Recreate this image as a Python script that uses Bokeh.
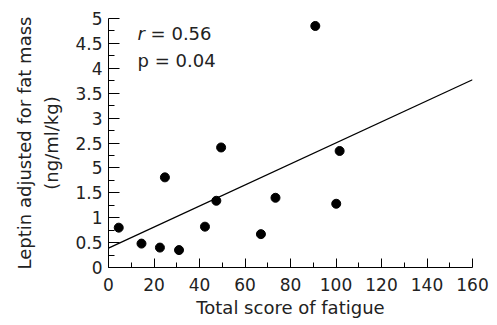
from bokeh.plotting import figure
from bokeh.models import Range1d, FixedTicker, Label
from bokeh.embed import file_html
from bokeh.resources import INLINE

# Data
fatigue = [4.5, 14.5, 22.6, 31.0, 24.8, 42.4, 47.4, 49.5, 67.0, 73.4, 90.9, 100.1, 101.6]
leptin = [0.80, 0.48, 0.40, 0.35, 1.81, 0.82, 1.34, 2.41, 0.67, 1.40, 4.85, 1.28, 2.34]
fit_x = [0, 160]
fit_y = [0.39, 3.77]
x_ticks = [0, 20, 40, 60, 80, 100, 120, 140, 160]
x_minor = [10, 30, 50, 70, 90, 110, 130, 150]
y_ticks = [0, 0.5, 1, 1.5, 2, 2.5, 3, 3.5, 4, 4.5, 5]
y_tick_labels = ["0", "0.5", "1", "1.5", "5", "2.5", "3", "3.5", "4", "4.5", "5"]
y_minor = [0.25, 0.75, 1.25, 1.75, 2.25, 2.75, 3.25, 3.75, 4.25, 4.75]
r_text = "= 0.56"
p_text = "p = 0.04"

FONT = "DejaVu Sans"

p = figure(width=497, height=325, output_backend="svg", toolbar_location=None,
           x_range=Range1d(0, 160), y_range=Range1d(0, 5),
           min_border_left=108, min_border_right=25, min_border_top=18, min_border_bottom=58)
p.outline_line_color = None
p.grid.visible = False
p.background_fill_color = "white"
p.border_fill_color = "white"

p.line(fit_x, fit_y, line_color="black", line_width=1.3)
p.scatter(fatigue, leptin, size=9, fill_color="black", line_color="black")

xa = p.xaxis[0]
xa.ticker = FixedTicker(ticks=x_ticks, minor_ticks=x_minor)
xa.major_tick_in = 9
xa.major_tick_out = 0
xa.minor_tick_in = 5
xa.minor_tick_out = 0
xa.axis_line_color = "black"
xa.major_tick_line_color = "black"
xa.minor_tick_line_color = "black"
xa.major_label_text_font = FONT
xa.major_label_text_font_size = "17px"
xa.major_label_text_color = "#222222"
xa.major_label_standoff = 10
xa.axis_label = "Total score of fatigue"
xa.axis_label_text_font = FONT
xa.axis_label_text_font_size = "18px"
xa.axis_label_text_font_style = "normal"
xa.axis_label_text_color = "#222222"
xa.axis_label_standoff = 3

ya = p.yaxis[0]
ya.ticker = FixedTicker(ticks=y_ticks, minor_ticks=y_minor)
ya.major_label_overrides = {float(t): s for t, s in zip(y_ticks, y_tick_labels)}
ya.major_tick_in = 11
ya.major_tick_out = 0
ya.minor_tick_in = 6
ya.minor_tick_out = 0
ya.axis_line_color = "black"
ya.major_tick_line_color = "black"
ya.minor_tick_line_color = "black"
ya.major_label_text_font = FONT
ya.major_label_text_font_size = "17px"
ya.major_label_text_color = "#222222"
ya.major_label_standoff = 6
ya.axis_label = "Leptin adjusted for fat mass\n(ng/ml/kg)"
ya.axis_label_text_font = FONT
ya.axis_label_text_font_size = "18px"
ya.axis_label_text_font_style = "normal"
ya.axis_label_text_color = "#222222"
ya.axis_label_text_line_height = 1.3
ya.axis_label_standoff = 10

p.add_layout(Label(x=12.8, y=4.70, text="r", text_font=FONT, text_font_size="18px",
                   text_font_style="italic", text_color="#222222", text_baseline="alphabetic"))
p.add_layout(Label(x=12.8, y=4.70, x_offset=13, text=r_text, text_font=FONT, text_font_size="18px",
                   text_color="#222222", text_baseline="alphabetic"))
p.add_layout(Label(x=12.8, y=4.16, text=p_text, text_font=FONT, text_font_size="18px",
                   text_color="#222222", text_baseline="alphabetic"))

open("out.html", "w").write(file_html(p, INLINE))
